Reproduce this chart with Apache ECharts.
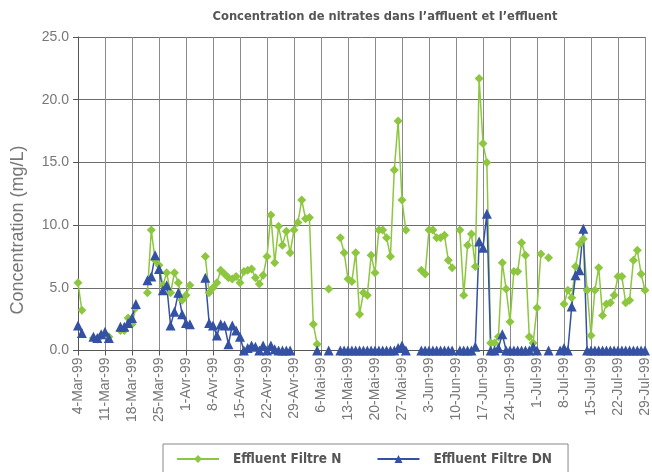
<!DOCTYPE html>
<html>
<head>
<meta charset="utf-8">
<script src="https://cdn.jsdelivr.net/npm/echarts@6/dist/echarts.min.js"></script>
<style>
  html, body { margin: 0; padding: 0; background: #ffffff; }
  #chart { width: 652px; height: 472px; }
</style>
</head>
<body>
<div id="chart"></div>
<script>
// Weekly tick labels (one every 7 days, 4-Mar-99 .. 29-Jul-99)
const weekLabels = ['4-Mar-99','11-Mar-99','18-Mar-99','25-Mar-99','1-Avr-99','8-Avr-99','15-Avr-99','22-Avr-99','29-Avr-99','6-Mai-99','13-Mai-99','20-Mai-99','27-Mai-99','3-Jun-99','10-Jun-99','17-Jun-99','24-Jun-99','1-Jul-99','8-Jul-99','15-Jul-99','22-Jul-99','29-Jul-99'];

// Daily values (mg/L), one entry per day starting 4-Mar-99; null = no sample
const effluentN = [
  5.4, 3.2, null, null, 1.0, 0.9, 1.2,        // 4-Mar
  1.3, 1.1, null, null, 1.6, 1.6, 2.6,        // 11-Mar
  2.1, 3.4, null, null, 4.6, 9.6, 7.2,        // 18-Mar
  6.8, 5.2, 6.2, 4.6, 6.2, 5.4, 4.0,          // 25-Mar
  4.4, 5.2, null, null, null, 7.5, 4.6,       // 1-Avr
  5.0, 5.4, 6.4, 6.1, 5.8, 5.7, 5.9,          // 8-Avr
  5.4, 6.3, 6.4, 6.5, 5.8, 5.3, 6.0,          // 15-Avr
  7.5, 10.8, 7.0, 9.9, 8.4, 9.5, 7.8,         // 22-Avr
  9.6, 10.2, 12.0, 10.5, 10.6, 2.1, 0.5,      // 29-Avr
  null, null, 4.9, null, null, 9.0, 7.8,      // 6-Mai
  5.7, 5.5, 7.8, 2.9, 4.6, 4.4, 7.6,          // 13-Mai
  6.2, 9.6, 9.6, 9.0, 7.5, 14.4, 18.3,        // 20-Mai
  12.0, 9.6, null, null, null, 6.4, 6.1,      // 27-Mai
  9.6, 9.6, 9.0, 9.0, 9.2, 7.2, 6.6,          // 3-Jun
  null, 9.6, 4.4, 8.4, 9.3, 6.7, 21.7,        // 10-Jun
  16.5, 15.0, 0.6, 0.6, 1.1, 7.0, 4.9,        // 17-Jun
  2.3, 6.3, 6.3, 8.6, 7.6, 1.1, 0.6,          // 24-Jun
  3.4, 7.7, null, 7.4, null, null, null,      // 1-Jul
  3.7, 4.8, 4.2, 6.7, 8.5, 8.9, 4.8,          // 8-Jul
  1.2, 4.8, 6.6, 2.8, 3.7, 3.8, 4.4,          // 15-Jul
  5.9, 5.9, 3.8, 4.0, 7.2, 8.0, 6.1,          // 22-Jul
  4.8                                          // 29-Jul
];
const effluentDN = [
  2.0, 1.4, null, null, 1.1, 1.0, 1.3,        // 4-Mar
  1.5, 1.0, null, null, 1.9, 1.9, 2.2,        // 11-Mar
  2.6, 3.7, null, null, 5.6, 5.9, 7.6,        // 18-Mar
  6.5, 4.8, 5.2, 2.0, 3.1, 4.6, 2.9,          // 25-Mar
  2.2, 2.1, null, null, null, 5.8, 2.2,       // 1-Avr
  2.0, 1.2, 2.1, 2.0, 0.5, 2.0, 1.6,          // 8-Avr
  1.1, 0.0, 0.2, 0.4, 0.3, 0.0, 0.4,          // 15-Avr
  0.0, 0.4, 0.1, 0.0, 0.0, 0.0, 0.0,          // 22-Avr
  null, null, null, null, null, null, 0.0,    // 29-Avr
  null, null, 0.0, null, null, 0.0, 0.0,      // 6-Mai
  0.0, 0.0, 0.0, 0.0, 0.0, 0.0, 0.0,          // 13-Mai
  0.0, 0.0, 0.0, 0.0, 0.0, 0.0, 0.2,          // 20-Mai
  0.4, 0.0, null, null, null, 0.0, 0.0,       // 27-Mai
  0.0, 0.0, 0.0, 0.0, 0.0, 0.0, 0.0,          // 3-Jun
  null, 0.0, 0.0, 0.0, 0.0, 0.3, 8.7,         // 10-Jun
  8.2, 10.9, 0.0, 0.0, 0.2, 1.3, 0.0,         // 17-Jun
  0.0, 0.0, 0.0, 0.0, 0.0, 0.0, 0.3,          // 24-Jun
  0.0, null, null, 0.0, null, null, 0.0,      // 1-Jul
  0.2, 0.0, 3.5, 6.0, 6.4, 9.7, 0.0,          // 8-Jul
  0.0, 0.0, 0.0, 0.0, 0.0, 0.0, 0.0,          // 15-Jul
  0.0, 0.0, 0.0, 0.0, 0.0, 0.0, 0.0,          // 22-Jul
  0.0                                          // 29-Jul
];
const seriesNames = ['Effluent Filtre N', 'Effluent Filtre DN'];
const titleText = 'Concentration de nitrates dans l\u2019affluent et l\u2019effluent';
const yTitle = 'Concentration (mg/L)';

// One category per day; only every 7th carries a visible label
const days = effluentN.map((_, i) => (i % 7 === 0 ? weekLabels[i / 7] : 'j' + i));

const condensed = "'Liberation Sans Narrow', 'DejaVu Sans Condensed', 'Arial Narrow', sans-serif";
const plain = "'Liberation Sans', Arial, sans-serif";

const chart = echarts.init(document.getElementById('chart'), null, { renderer: 'canvas' });
chart.setOption({
  animation: false,
  backgroundColor: '#ffffff',
  graphic: [
    {
      type: 'text',
      x: 385, y: 17,
      style: {
        text: titleText,
        fill: '#555555',
        font: "bold 12.8px " + condensed,
        textAlign: 'center',
        textVerticalAlign: 'middle'
      }
    },
    {
      type: 'text',
      x: 18, y: 230,
      rotation: Math.PI / 2,
      style: {
        text: yTitle,
        fill: '#777777',
        font: "18px " + plain,
        textAlign: 'center',
        textVerticalAlign: 'middle'
      }
    }
  ],
  grid: { left: 78, right: 2, top: 37, bottom: 121.5, containLabel: false },
  legend: {
    data: seriesNames,
    left: 163, top: 444,
    itemWidth: 42, itemHeight: 10, itemGap: 35,
    padding: [8, 16, 8, 13],
    borderColor: '#888888', borderWidth: 1,
    textStyle: { color: '#555555', fontWeight: 'bold', fontSize: 13.5, fontFamily: condensed, padding: [0, 0, 0, 9] }
  },
  xAxis: {
    type: 'category',
    data: days,
    boundaryGap: false,
    axisLine: { lineStyle: { color: '#555555', width: 1 } },
    axisTick: { show: true, interval: 6, length: 5, lineStyle: { color: '#555555' } },
    axisLabel: { interval: 6, rotate: 90, color: '#777777', fontSize: 14, fontFamily: plain, margin: 7 },
    splitLine: { show: true, interval: 6, lineStyle: { color: '#8a8a8a', width: 1 } }
  },
  yAxis: {
    type: 'value',
    min: 0, max: 25, interval: 5,
    axisLine: { show: true, lineStyle: { color: '#555555', width: 1 } },
    axisTick: { show: true, length: 5, lineStyle: { color: '#555555' } },
    axisLabel: { color: '#777777', fontSize: 14, fontFamily: plain, margin: 9, formatter: v => v.toFixed(1) },
    splitLine: { show: true, lineStyle: { color: '#6e6e6e', width: 1 } }
  },
  series: [
    {
      name: seriesNames[0],
      type: 'line',
      data: effluentN,
      connectNulls: false,
      symbol: 'diamond',
      symbolSize: 9,
      showAllSymbol: true,
      lineStyle: { color: '#8dc63f', width: 1.5 },
      itemStyle: { color: '#8dc63f' }
    },
    {
      name: seriesNames[1],
      type: 'line',
      data: effluentDN,
      connectNulls: false,
      symbol: 'triangle',
      symbolSize: 10,
      showAllSymbol: true,
      lineStyle: { color: '#3551a4', width: 1.5 },
      itemStyle: { color: '#3551a4' }
    }
  ]
});
</script>
</body>
</html>
